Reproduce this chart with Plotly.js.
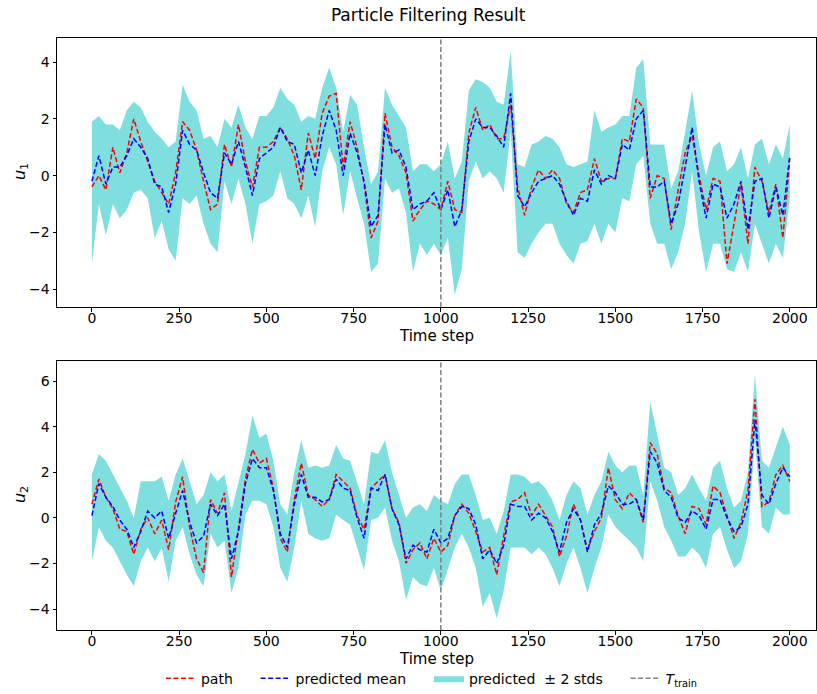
<!DOCTYPE html>
<html>
<head>
<meta charset="utf-8">
<script src="https://cdn.plot.ly/plotly-3.0.1.min.js"></script>
<style>html,body{margin:0;padding:0;background:#fff;}#chart{width:817px;height:694px;}</style>
</head>
<body>
<div id="chart"></div>
<script>
const STEP = 20;
const T_TRAIN = 1000;
const xTicks = [0, 250, 500, 750, 1000, 1250, 1500, 1750, 2000];

// ---- u1 ----
const u1Path = [
 -0.4, 0.0, -0.5, 1.0, 0.1, 0.8, 2.0, 1.2, 0.5, -0.2,
 -0.6, -1.0, 0.1, 1.9, 1.6, 0.9, -0.2, -1.2, -1.0, 1.1,
 0.3, 1.8, 0.5, -0.4, 1.0, 1.0, 1.2, 1.7, 1.3, 0.7,
 -0.5, 1.5, 0.6, 2.2, 2.8, 2.9, 0.3, 1.9, 1.0, -0.3,
 -2.2, -1.6, 2.2, 1.0, 0.7, 0.1, -1.6, -1.2, -0.9, -1.0,
 -1.2, -0.2, -1.2, -1.3, 1.5, 2.4, 1.6, 1.8, 1.3, 1.3,
 2.5, -0.4, -1.4, -0.4, 0.2, -0.1, 0.2, -0.1, -1.0, -1.3,
 -0.6, -0.5, 0.6, -0.2, -0.1, -0.1, 1.3, 1.2, 2.7, 2.4,
 -0.8, 0.0, -0.1, -1.9, -0.5, 0.8, 1.4, 0.0, -1.2, -0.1,
 -0.2, -3.1, -1.7, -0.3, -2.4, 0.3, -0.2, -1.3, -0.3, -2.2,
 0.6];
const u1Mean = [
 -0.2, 0.7, -0.3, 0.3, 0.3, 0.7, 1.3, 1.0, 0.6, -0.3,
 -0.4, -1.3, -0.3, 1.6, 1.1, 0.9, 0.1, -0.6, -0.8, 0.8,
 0.4, 1.2, 0.3, -0.7, 0.6, 0.8, 1.0, 1.7, 1.2, 1.1,
 0.1, 0.9, 0.0, 1.4, 2.3, 1.6, 0.0, 1.5, 0.8, -0.2,
 -1.8, -1.4, 1.8, 0.8, 0.9, 0.3, -1.2, -1.0, -0.9, -0.6,
 -1.2, -0.5, -1.8, -1.2, 1.2, 2.0, 1.7, 1.7, 1.4, 1.0,
 2.9, -0.7, -1.1, -0.6, -0.2, -0.1, 0.0, -0.3, -0.9, -1.4,
 -0.8, -0.9, 0.2, -0.3, 0.0, -0.1, 1.1, 0.9, 2.0, 2.3,
 -0.4, -0.4, -0.2, -1.7, -1.0, 0.3, 1.7, -0.2, -1.5, -0.3,
 -0.4, -1.5, -1.0, -0.2, -1.9, -0.2, -0.1, -1.5, -0.4, -1.4,
 0.7];
const u1Upper = [
 1.9, 2.1, 1.8, 1.8, 1.6, 2.3, 2.6, 2.4, 1.9, 1.55,
 1.3, 1.0, 1.2, 3.2, 2.6, 2.3, 1.3, 1.4, 1.0, 2.0,
 1.7, 2.5, 1.7, 1.3, 2.1, 2.1, 2.4, 3.1, 2.7, 2.5,
 1.9, 2.1, 2.0, 3.1, 3.8, 3.1, 1.55, 2.85, 2.5, 1.0,
 -0.3, 0.15, 3.1, 2.5, 2.1, 1.7, 0.15, 0.4, 0.4, 0.15,
 0.4, 1.2, -0.1, 0.5, 3.0, 3.4, 3.3, 3.1, 2.6, 2.5,
 4.4, 0.4, 0.3, 1.1, 1.2, 1.4, 1.3, 1.0, 0.4, 0.3,
 0.4, 0.5, 2.3, 1.55, 1.7, 1.8, 2.1, 2.1, 3.8, 4.1,
 1.1, 1.1, 1.1, -0.45, 0.15, 1.55, 3.0, 1.1, 0.0, 1.0,
 1.2, 0.15, 0.4, 1.0, -0.1, 1.1, 1.3, 0.4, 1.1, 0.6,
 1.8];
const u1Lower = [
 -3.1, -1.0, -2.1, -1.0, -1.5, -1.2, -0.6, -0.5, -0.8, -2.2,
 -1.6, -2.6, -3.0, -0.8, -1.0, -0.7, -1.7, -2.4, -2.7, -0.2,
 -1.0, -0.1, -1.0, -2.4, -1.0, -0.9, -0.7, 0.15, -0.8, -1.0,
 -1.5, -0.7, -1.8, 0.15, 1.0, 0.4, -1.4, 0.15, -0.8, -1.7,
 -3.4, -3.1, -0.1, -0.6, -0.45, -1.3, -3.4, -2.4, -2.8, -2.4,
 -2.8, -2.2, -4.2, -3.3, -0.2, 0.5, -0.1, 0.15, -0.1, -0.6,
 1.55, -2.7, -2.9, -2.4, -2.0, -1.7, -1.7, -2.4, -2.8, -3.1,
 -2.4, -2.3, -1.7, -2.4, -1.7, -2.0, -0.8, -0.9, 0.4, 0.7,
 -1.7, -2.4, -2.4, -3.3, -2.7, -1.7, 0.15, -2.0, -3.4, -2.4,
 -2.4, -3.3, -3.4, -2.7, -3.4, -1.7, -2.4, -3.1, -2.4, -2.9,
 -0.8];

// ---- u2 ----
const u2Path = [
 0.6, 1.7, 0.9, 0.4, -0.5, -0.6, -1.6, -0.5, 0.0, -0.7,
 -0.1, -1.4, 0.7, 1.8, -0.4, -1.8, -2.4, 0.8, 0.2, 1.1,
 -2.6, -0.5, 1.7, 3.0, 2.4, 2.6, 1.3, -0.9, -1.5, 0.8,
 2.4, 1.0, 0.8, 0.5, 0.8, 1.9, 1.6, 1.3, 0.1, -0.5,
 1.3, 1.6, 1.9, 0.4, -0.2, -2.0, -1.4, -1.1, -1.8, -0.9,
 -1.5, -1.2, 0.1, 0.6, 0.2, -0.6, -1.5, -1.3, -2.5, -0.8,
 0.7, 0.8, 1.1, 0.1, 0.6, 0.1, -0.4, -1.7, -0.8, 0.6,
 -0.1, -1.4, -0.6, 0.0, 2.2, 0.8, 0.4, 1.1, 0.8, -0.2,
 3.3, 2.8, 1.3, 1.1, 0.1, -0.7, 0.5, 0.4, -0.3, 1.4,
 1.1, 0.1, -0.9, -0.2, 1.2, 5.2, 0.5, 0.7, 1.9, 2.3,
 1.6];
const u2Mean = [
 0.1, 1.5, 0.9, 0.5, -0.1, -0.5, -1.3, -0.6, 0.3, 0.0,
 0.3, -0.9, 0.2, 1.2, -0.2, -1.1, -0.8, 0.6, 0.1, 0.6,
 -1.8, -0.6, 1.5, 2.6, 2.2, 2.2, 1.2, -0.7, -1.3, 0.6,
 1.9, 0.9, 0.9, 0.7, 0.8, 1.7, 1.3, 1.2, 0.0, -0.9,
 1.3, 1.2, 1.9, 0.4, -0.3, -1.8, -1.2, -1.4, -1.5, -0.5,
 -1.1, -0.9, 0.1, 0.5, 0.4, -0.3, -1.8, -1.4, -2.0, -1.2,
 0.6, 0.5, 0.5, -0.1, 0.2, 0.0, -0.6, -1.5, -0.2, 0.4,
 -0.1, -1.5, -0.3, 0.2, 1.4, 1.1, 0.6, 0.6, 0.8, -0.1,
 2.9, 2.4, 1.2, 0.9, 0.0, -0.2, 0.3, 0.1, -0.5, 0.8,
 0.8, 0.0, -0.6, -0.4, 0.6, 4.3, 1.0, 0.6, 1.5, 2.2,
 1.8];
const u2Upper = [
 1.9, 2.8, 2.5, 1.9, 1.3, 0.75, 0.0, 1.6, 1.6, 1.6,
 1.8, 0.75, 1.9, 2.6, 1.6, 0.6, 1.0, 2.0, 1.6, 1.9,
 0.3, 1.6, 2.8, 4.5, 3.5, 3.7, 2.5, 0.6, 0.15, 2.0,
 3.4, 2.2, 2.3, 2.2, 2.3, 3.2, 2.6, 2.5, 1.6, 0.6,
 2.9, 2.8, 3.4, 2.0, 1.0, 0.0, 0.45, 0.6, 0.3, 1.0,
 0.75, 0.6, 1.5, 1.9, 1.9, 1.0, -0.1, 0.0, -0.7, 0.3,
 1.9, 1.9, 1.8, 1.5, 1.6, 1.3, 0.75, -0.1, 1.0, 1.6,
 1.3, 0.15, 1.0, 1.6, 2.9, 2.3, 2.0, 2.3, 2.3, 1.0,
 5.1, 3.7, 2.2, 2.0, 1.0, 1.3, 1.9, 1.3, 0.75, 2.2,
 2.5, 1.3, 0.45, 0.75, 2.0, 6.3, 2.5, 2.2, 3.1, 4.0,
 3.2];
const u2Lower = [
 -1.9, -0.4, -1.0, -1.3, -1.9, -2.5, -3.0, -1.9, -1.3, -1.9,
 -1.3, -2.8, -1.0, -0.4, -1.6, -2.5, -3.0, -0.7, -1.3, -1.0,
 -3.3, -2.2, 0.15, 0.75, 0.75, 0.6, -0.4, -2.2, -2.8, -1.3,
 0.75, -0.7, -0.9, -1.0, -0.9, 0.15, -0.1, -0.3, -1.3, -2.3,
 -0.1, 0.0, 0.45, -1.0, -1.9, -3.6, -2.6, -2.9, -3.0, -2.2,
 -3.2, -2.2, -1.3, -0.7, -1.3, -2.2, -3.9, -3.3, -4.4, -3.2,
 -1.3, -1.3, -1.3, -1.6, -1.3, -1.6, -2.2, -3.0, -2.0, -1.3,
 -2.2, -3.3, -2.2, -1.3, 0.15, -0.4, -0.7, -1.0, -1.3, -1.9,
 1.6, 0.75, -0.4, -1.0, -1.7, -1.7, -1.3, -1.6, -2.2, -0.7,
 -0.4, -1.4, -2.2, -1.9, -0.7, 3.4, -0.4, -0.7, 0.45, 0.15,
 0.15];

const steps = u1Mean.map((_, i) => i * STEP);

const RED = '#ff0000', BLUE = '#0000ff', BAND = 'rgba(0,191,191,0.5)', GRAY = '#808080';
const DASH = '5px,2.5px';
const PAD = '&nbsp;&nbsp;&nbsp;&nbsp;';

function panel(lower, upper, path, mean, xa, ya, showLeg) {
  return [
    {x: steps, y: lower, xaxis: xa, yaxis: ya, type: 'scatter', mode: 'lines',
     line: {width: 0, color: BAND}, showlegend: false, hoverinfo: 'skip'},
    {x: steps, y: upper, xaxis: xa, yaxis: ya, type: 'scatter', mode: 'lines',
     line: {width: 0, color: BAND}, fill: 'tonexty', fillcolor: BAND,
     name: 'predicted  \u00b1 2 stds' + PAD, showlegend: showLeg, legendrank: 3},
    {x: steps, y: path, xaxis: xa, yaxis: ya, type: 'scatter', mode: 'lines',
     line: {width: 1.5, color: RED, dash: DASH}, name: 'path' + PAD, showlegend: showLeg, legendrank: 1},
    {x: steps, y: mean, xaxis: xa, yaxis: ya, type: 'scatter', mode: 'lines',
     line: {width: 1.5, color: BLUE, dash: DASH}, name: 'predicted mean' + PAD, showlegend: showLeg, legendrank: 2}
  ];
}

const traces = [
  ...panel(u1Lower, u1Upper, u1Path, u1Mean, 'x', 'y', true),
  ...panel(u2Lower, u2Upper, u2Path, u2Mean, 'x2', 'y2', false),
  {x: [null], y: [null], type: 'scatter', mode: 'lines', xaxis: 'x', yaxis: 'y',
   line: {width: 1.5, color: GRAY, dash: DASH}, name: '<i>T</i><sub>train</sub>', legendrank: 4}
];

const FONT = 'DejaVu Sans, sans-serif';
function xAxis(anchor) {
  return {
    anchor: anchor, domain: [0, 1], range: [-100, 2075],
    tickvals: xTicks, ticks: 'outside', ticklen: 3.5, tickwidth: 1, tickcolor: '#000',
    ticklabelstandoff: -5,
    showline: true, mirror: true, linecolor: '#000', linewidth: 1,
    showgrid: false, zeroline: false,
    tickfont: {size: 14, color: '#000'}
  };
}
function yAxis(anchor, domain, range, ticks) {
  return {
    anchor: anchor, domain: domain, range: range,
    tickvals: ticks, ticks: 'outside', ticklen: 3.5, tickwidth: 1, tickcolor: '#000',
    showline: true, mirror: true, linecolor: '#000', linewidth: 1,
    showgrid: false, zeroline: false,
    tickfont: {size: 14, color: '#000'}
  };
}

const axisTitle = (text, x, y, angle) => ({
  text: text, xref: 'paper', yref: 'paper', x: x, y: y, xanchor: 'center', yanchor: 'middle',
  textangle: angle, showarrow: false, font: {size: angle ? 16 : 15, color: '#000'}
});

const layout = {
  width: 817, height: 694,
  margin: {l: 57, r: 1, t: 38, b: 64, autoexpand: false},
  paper_bgcolor: '#fff', plot_bgcolor: '#fff',
  font: {family: FONT, color: '#000'},
  title: {text: 'Particle Filtering Result', font: {size: 17, color: '#000'},
          xref: 'paper', x: 0.489, xanchor: 'center', yref: 'container', y: 0.978, yanchor: 'middle'},
  xaxis: xAxis('y'),
  xaxis2: xAxis('y2'),
  yaxis: yAxis('x', [0.5456, 1], [-4.63, 4.85], [-4, -2, 0, 2, 4]),
  yaxis2: yAxis('x2', [0, 0.4544], [-4.92, 6.88], [-4, -2, 0, 2, 4, 6]),
  annotations: [
    axisTitle('Time step', 0.5, 0.4966, 0),
    axisTitle('Time step', 0.5, -0.049, 0),
    axisTitle('<i>u</i><sub>1</sub>', -0.0487, 0.7736, -90),
    axisTitle('<i>u</i><sub>2</sub>', -0.0487, 0.228, -90)
  ],
  showlegend: true,
  legend: {orientation: 'h', xref: 'paper', x: 0.494, xanchor: 'center',
           yref: 'container', y: 0.022, yanchor: 'middle',
           font: {size: 14, color: '#000'}, bgcolor: 'rgba(0,0,0,0)', traceorder: 'normal'},
  shapes: [
    {type: 'line', xref: 'x', yref: 'y domain', x0: T_TRAIN, x1: T_TRAIN, y0: 0, y1: 1,
     line: {color: GRAY, width: 1.5, dash: DASH}},
    {type: 'line', xref: 'x2', yref: 'y2 domain', x0: T_TRAIN, x1: T_TRAIN, y0: 0, y1: 1,
     line: {color: GRAY, width: 1.5, dash: DASH}}
  ]
};

Plotly.newPlot('chart', traces, layout, {staticPlot: true, displayModeBar: false});
</script>
</body>
</html>
